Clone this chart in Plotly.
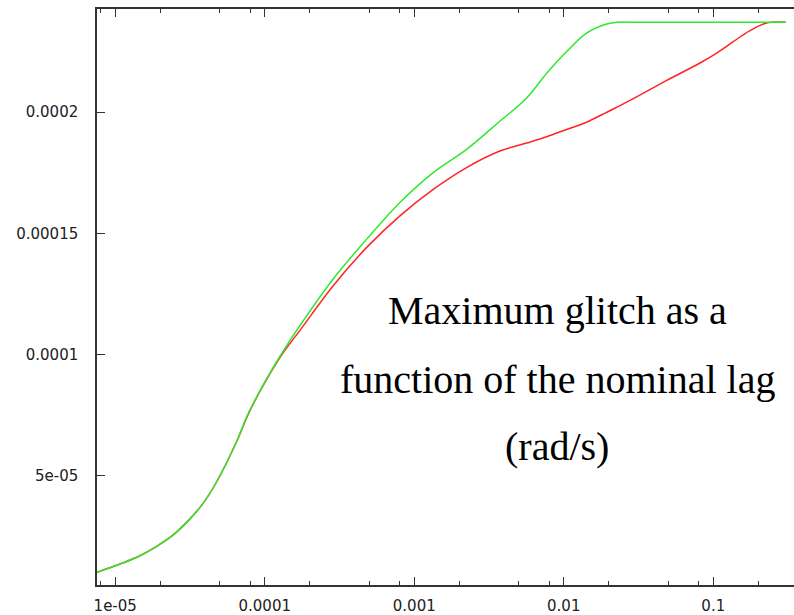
import plotly.graph_objects as go

# Nominal lag (rad/s)
lag = [7.55e-6, 1.132e-5, 1.462e-5, 1.892e-5, 2.443e-5, 3.16e-5, 3.88e-5, 4.76e-5,
       6.49e-5, 7.57e-5, 8.38e-5,
       1.03e-4, 1.33e-4, 1.72e-4, 2.87e-4, 4.81e-4, 8.02e-4, 1.34e-3, 2.24e-3,
       3.74e-3, 5.65e-3, 7.69e-3, 1.045e-2, 1.42e-2, 1.94e-2, 2.32e-2, 2.92e-2,
       4.88e-2, 8.15e-2, 0.1054, 0.136, 0.176, 0.225, 0.306]

# Maximum glitch, in units of 1e-5
glitch_red = [1.03, 1.42, 1.71, 2.10, 2.57, 3.23, 3.88, 4.75,
              6.42, 7.40, 7.97,
              8.98, 10.08, 11.00, 12.84, 14.42, 15.72, 16.81, 17.71,
              18.39, 18.72, 18.98, 19.28, 19.58, 19.99, 20.23, 20.55,
              21.30, 22.02, 22.43, 22.90, 23.35, 23.66, 23.70]
glitch_green = [1.03, 1.42, 1.71, 2.10, 2.57, 3.23, 3.88, 4.75,
                6.42, 7.44, 7.99,
                9.01, 10.15, 11.20, 13.12, 14.76, 16.27, 17.50, 18.46,
                19.62, 20.58, 21.60, 22.49, 23.25, 23.63, 23.70, 23.70,
                23.70, 23.70, 23.70, 23.70, 23.70, 23.70, 23.70]

x_major = [1e-5, 1e-4, 1e-3, 1e-2, 1e-1]
x_major_text = ["1e-05", "0.0001", "0.001", "0.01", "0.1"]
x_minor = [8e-6, 2e-5, 5e-5, 8e-5, 2e-4, 5e-4, 8e-4, 2e-3, 5e-3, 8e-3,
           2e-2, 5e-2, 8e-2, 0.2]
y_major = [5e-5, 1e-4, 1.5e-4, 2e-4]
y_major_text = ["5e-05", "0.0001", "0.00015", "0.0002"]

caption = ["Maximum glitch as a", "function of the nominal lag", "(rad/s)"]

scale = 1e-5
x_range = [-5.122, -0.460]

fig = go.Figure()
fig.add_trace(go.Scatter(
    x=lag, y=[v * scale for v in glitch_red], mode="lines",
    line=dict(color="#ff2424", width=1.5, shape="spline", smoothing=1.0),
    showlegend=False,
))
fig.add_trace(go.Scatter(
    x=lag, y=[v * scale for v in glitch_green], mode="lines",
    line=dict(color="#2ee82e", width=1.5, shape="spline", smoothing=1.0),
    showlegend=False,
))

tick_font = dict(family="DejaVu Sans", size=15, color="#222222")
axis_color = "#333333"

fig.update_layout(
    xaxis=dict(
        type="log", range=x_range,
        showgrid=False, zeroline=False,
        showline=True, linecolor=axis_color, linewidth=1.5, mirror="allticks",
        tickmode="array", tickvals=x_major, ticktext=x_major_text,
        ticks="inside", ticklen=8, tickwidth=1.2, tickcolor=axis_color,
        tickfont=tick_font, ticklabelstandoff=6,
    ),
    # overlaid axis carrying the short ticks at 2, 5 and 8 of each decade
    xaxis2=dict(
        type="log", range=x_range, overlaying="x", anchor="y", side="bottom",
        showgrid=False, zeroline=False, showline=False, mirror="allticks",
        tickmode="array", tickvals=x_minor, showticklabels=False,
        ticks="inside", ticklen=4, tickwidth=1.2, tickcolor=axis_color,
    ),
    yaxis=dict(
        range=[5.05e-6, 2.4245e-4],
        showgrid=False, zeroline=False,
        showline=True, linecolor=axis_color, linewidth=1.5,
        tickmode="array", tickvals=y_major, ticktext=y_major_text,
        ticks="inside", ticklen=8, tickwidth=1.2, tickcolor=axis_color,
        tickfont=tick_font, ticklabelstandoff=14,
    ),
)

# invisible trace so the minor-tick axis is drawn
fig.add_trace(go.Scatter(x=[x_minor[0]], y=[y_major[0]], xaxis="x2",
                         mode="markers", marker=dict(opacity=0),
                         showlegend=False, hoverinfo="skip"))

for text, ypos in zip(caption, [0.4766, 0.3573, 0.2413]):
    fig.add_annotation(
        text=text, xref="paper", yref="paper", x=0.660, y=ypos,
        xanchor="center", yanchor="middle", showarrow=False,
        font=dict(family="Liberation Serif", size=40, color="#000000"),
    )

fig.update_layout(
    width=794, height=615, autosize=False,
    margin=dict(l=97, r=0, t=9, b=28, pad=0),
    paper_bgcolor="white", plot_bgcolor="white",
)

fig.write_html("out.html")
